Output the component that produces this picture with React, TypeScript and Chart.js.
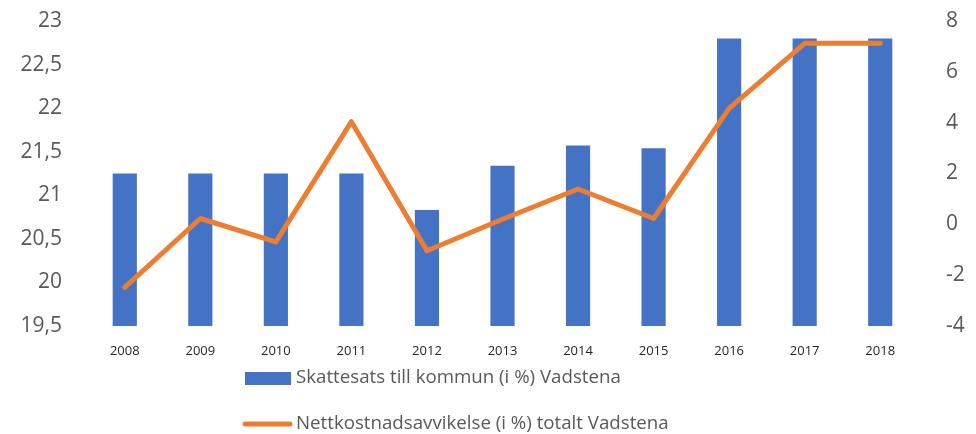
import React, { useEffect, useRef } from "react";
import { Chart, registerables } from "chart.js";

Chart.register(...registerables);

const years = ["2008", "2009", "2010", "2011", "2012", "2013", "2014", "2015", "2016", "2017", "2018"];
const taxRate = [21.25, 21.25, 21.25, 21.25, 20.83, 21.34, 21.57, 21.54, 22.8, 22.8, 22.8];
const netCostDeviation = [-2.48, 0.23, -0.69, 4.04, -1.04, 0.2, 1.39, 0.23, 4.56, 7.12, 7.12];
const taxLabel = "Skattesats till kommun (i %) Vadstena";
const netLabel = "Nettkostnadsavvikelse (i %) totalt Vadstena";

const BLUE = "#4472C4";
const ORANGE = "#ED7D31";
const GREY = "#595959";
const FONT = "'Open Sans', sans-serif";

const legendPlugin = {
  id: "stackedLegend",
  afterDraw(chart: any) {
    const ctx = chart.ctx;
    const ds = chart.data.datasets;
    ctx.save();
    ctx.font = `18.7px ${FONT}`;
    ctx.textBaseline = "middle";
    ctx.textAlign = "left";
    // row 1: bar item
    ctx.fillStyle = ds[0].backgroundColor;
    ctx.fillRect(245, 372, 46, 13);
    ctx.fillStyle = GREY;
    ctx.fillText(ds[0].label, 296, 378);
    // row 2: line item
    ctx.strokeStyle = ds[1].borderColor;
    ctx.lineWidth = 5;
    ctx.lineCap = "round";
    ctx.beginPath();
    ctx.moveTo(245, 424);
    ctx.lineTo(290, 424);
    ctx.stroke();
    ctx.fillStyle = GREY;
    ctx.fillText(ds[1].label, 296, 424);
    ctx.restore();
  },
};

export default function App() {
  const ref = useRef<HTMLCanvasElement>(null);
  useEffect(() => {
    if (!ref.current) return;
    const chart = new Chart(ref.current, {
      type: "bar",
      data: {
        labels: years,
        datasets: [
          {
            type: "bar",
            label: taxLabel,
            data: taxRate,
            backgroundColor: BLUE,
            borderWidth: 0,
            yAxisID: "y",
            order: 1,
            barPercentage: 0.32,
            categoryPercentage: 1,
          },
          {
            type: "line",
            label: netLabel,
            data: netCostDeviation,
            borderColor: ORANGE,
            backgroundColor: ORANGE,
            borderWidth: 5,
            pointRadius: 0,
            tension: 0,
            borderJoinStyle: "round",
            borderCapStyle: "round",
            yAxisID: "y1",
            order: 0,
          },
        ],
      } as any,
      options: {
        responsive: false,
        animation: false,
        layout: { padding: { top: 21, left: 0, right: 0, bottom: 0 } },
        plugins: { legend: { display: false }, tooltip: { enabled: false } },
        scales: {
          x: {
            offset: true,
            grid: { display: false },
            border: { display: false },
            ticks: { color: "#262626", font: { family: FONT, size: 13 }, padding: 9, maxRotation: 0 },
            afterFit: (s: any) => { s.height = 108; },
          },
          y: {
            position: "left",
            min: 19.5,
            max: 23,
            grid: { display: false },
            border: { display: false },
            ticks: {
              stepSize: 0.5,
              color: GREY,
              padding: 17,
              font: { family: FONT, size: 21 },
              callback: (v: any) => String(v).replace(".", ","),
            },
            afterFit: (s: any) => { s.width = 87; s.paddingTop = 0; s.paddingBottom = 0; },
          },
          y1: {
            position: "right",
            min: -4,
            max: 8,
            grid: { display: false },
            border: { display: false },
            ticks: { stepSize: 2, color: GREY, padding: 20, font: { family: FONT, size: 21 } },
            afterFit: (s: any) => { s.width = 58; s.paddingTop = 0; s.paddingBottom = 0; },
          },
        },
      } as any,
      plugins: [legendPlugin],
    });
    return () => chart.destroy();
  }, []);
  return (
    <div style={{ position: "fixed", left: 0, top: 0, width: 976, height: 434, background: "#fff" }}>
      <canvas ref={ref} width={976} height={434} />
    </div>
  );
}
